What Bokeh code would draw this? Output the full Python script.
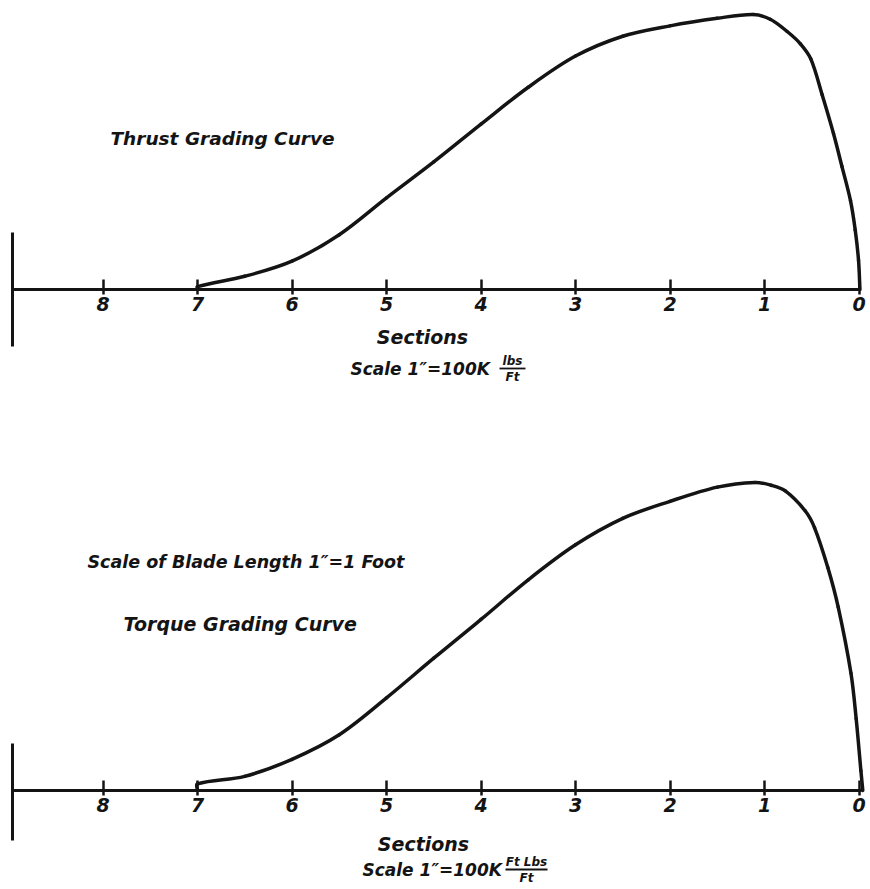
from math import hypot
from bokeh.plotting import figure
from bokeh.models import Range1d, LinearAxis, FixedTicker, Label
from bokeh.layouts import column
from bokeh.embed import file_html
from bokeh.resources import INLINE

# ---------------- data ----------------
sections = [8, 7, 6, 5, 4, 3, 2, 1, 0]
tick_labels = {8: "8", 7: "7", 6: "6", 5: "5", 4: "4", 3: "3", 2: "2", 1: "1", 0: "0"}

# Thrust grading curve (K lbs / ft), scale 1" = 100K
thrust_sections = [7.0, 7.0, 6.5, 6.0, 5.5, 5.0, 4.5, 4.0, 3.5, 3.0, 2.5, 2.0, 1.5,
                   1.12, 0.94, 0.76, 0.62, 0.51, 0.39, 0.27, 0.18, 0.09, 0.04, 0.005, -0.01]
thrust_values = [0, 3, 14, 30, 58, 97, 135, 175, 214, 247, 268, 279, 287,
                 291, 286, 273, 260, 244, 206, 165, 130, 94, 63, 31, 0]

# Torque grading curve (K ft-lbs / ft), scale 1" = 100K
torque_sections = [7.0, 7.0, 6.5, 6.0, 5.5, 5.0, 4.5, 4.0, 3.5, 3.0, 2.5, 2.0, 1.5,
                   1.1, 0.93, 0.78, 0.57, 0.47, 0.33, 0.22, 0.085, 0.03, -0.02, -0.04]
torque_values = [0, 7, 15, 33, 59, 98, 140, 181, 223, 260, 288, 306, 321,
                 326, 323, 317, 296, 278, 236, 194, 124, 76, 21, 0]

# ---------------- layout helpers ----------------
W = 870
PX = 94.5            # pixels per section (1" = 1 ft); also 1" = 100K
X0 = 858.5           # pixel of section 0
INK = "#141414"
FONT = "DejaVu Sans"


def sx(img_x):
    return (X0 - img_x) / PX


def make_sy(axis_img_y):
    return lambda img_y: (axis_img_y - img_y) * 100.0 / PX


def base_fig(height, top_img, axis_img):
    sy = make_sy(axis_img)
    p = figure(width=W, height=height,
               x_range=Range1d(sx(0), sx(W)),
               y_range=Range1d(sy(top_img + height), sy(top_img)),
               output_backend="svg", toolbar_location=None,
               x_axis_location=None, y_axis_location=None,
               min_border=0, outline_line_color=None,
               background_fill_color="white", border_fill_color="white")
    p.grid.visible = False
    return p, sy


def add_axes(p, bar_x, bar_bounds, x_bounds):
    xa = LinearAxis(fixed_location=0, ticker=FixedTicker(ticks=sections),
                    major_label_overrides=tick_labels, bounds=x_bounds)
    xa.axis_line_width = 3
    xa.axis_line_color = INK
    xa.major_tick_line_width = 2.5
    xa.major_tick_line_color = INK
    xa.major_tick_in = 10
    xa.major_tick_out = 5
    xa.minor_tick_in = 0
    xa.minor_tick_out = 0
    xa.major_label_standoff = 2
    xa.major_label_text_font = FONT
    xa.major_label_text_font_style = "bold italic"
    xa.major_label_text_font_size = "19px"
    xa.major_label_text_color = INK
    p.add_layout(xa, "below")

    ya = LinearAxis(fixed_location=bar_x, ticker=FixedTicker(ticks=[]), bounds=bar_bounds)
    ya.axis_line_width = 3
    ya.axis_line_color = INK
    ya.major_tick_in = 0
    ya.major_tick_out = 0
    ya.minor_tick_in = 0
    ya.minor_tick_out = 0
    ya.major_label_text_font_size = "0px"
    p.add_layout(ya, "left")


def smooth_curve(p, xs, ys):
    # smooth path through the read points (cubic Bezier, tangent = neighbour chord)
    kx, ky = PX, PX / 100.0
    P = [(x * kx, y * ky) for x, y in zip(xs, ys)]
    n = len(P)
    T = []
    for i in range(n):
        a = P[max(i - 1, 0)]
        b = P[min(i + 1, n - 1)]
        dx, dy = b[0] - a[0], b[1] - a[1]
        L = hypot(dx, dy) or 1.0
        T.append((dx / L, dy / L))
    x0, y0, x1, y1, cx0, cy0, cx1, cy1 = [], [], [], [], [], [], [], []
    for i in range(n - 1):
        (ax, ay), (bx, by) = P[i], P[i + 1]
        L = hypot(bx - ax, by - ay) / 3.0
        x0.append(ax / kx); y0.append(ay / ky)
        x1.append(bx / kx); y1.append(by / ky)
        cx0.append((ax + T[i][0] * L) / kx); cy0.append((ay + T[i][1] * L) / ky)
        cx1.append((bx - T[i + 1][0] * L) / kx); cy1.append((by - T[i + 1][1] * L) / ky)
    p.bezier(x0=x0, y0=y0, x1=x1, y1=y1, cx0=cx0, cy0=cy0, cx1=cx1, cy1=cy1,
             line_color=INK, line_width=3.5, line_cap="round")


def text(p, sy, img_x, img_y, s, size, style="bold italic", align="left"):
    p.add_layout(Label(x=sx(img_x), y=sy(img_y), text=s, text_font=FONT,
                       text_font_style=style, text_font_size=size,
                       text_color=INK, text_baseline="middle", text_align=align))


def fraction(p, sy, cx, cy, num, den, half_w):
    text(p, sy, cx, cy - 8, num, "12px", "bold italic", "center")
    text(p, sy, cx, cy + 8, den, "12px", "bold italic", "center")
    p.segment(x0=[sx(cx - half_w)], y0=[sy(cy)], x1=[sx(cx + half_w)], y1=[sy(cy)],
              line_color=INK, line_width=1.8)


# ---------------- top: thrust ----------------
top_h = 400
p1, sy1 = base_fig(top_h, 0, 289)
add_axes(p1, sx(12), (sy1(346), sy1(232)), (-0.02, sx(12)))
smooth_curve(p1, thrust_sections, thrust_values)
text(p1, sy1, 110, 138, "Thrust Grading Curve", "18.5px")
text(p1, sy1, 422, 336, "Sections", "19px", "bold italic", "center")
text(p1, sy1, 350, 368, "Scale  1\u2033=100K", "17px")
fraction(p1, sy1, 512, 368, "lbs", "Ft", 13)

# ---------------- bottom: torque ----------------
bot_h = 488
p2, sy2 = base_fig(bot_h, top_h, 790)
add_axes(p2, sx(12), (sy2(840), sy2(743)), (-0.03, sx(12)))
smooth_curve(p2, torque_sections, torque_values)
text(p2, sy2, 87, 561, "Scale of Blade Length 1\u2033=1 Foot", "17.5px")
text(p2, sy2, 123, 623, "Torque Grading Curve", "19px")
text(p2, sy2, 423, 843, "Sections", "19px", "bold italic", "center")
text(p2, sy2, 362, 869, "Scale 1\u2033=100K", "17px")
fraction(p2, sy2, 526, 869, "Ft Lbs", "Ft", 21)

layout = column(p1, p2, spacing=0)
open("out.html", "w").write(file_html(layout, INLINE))
